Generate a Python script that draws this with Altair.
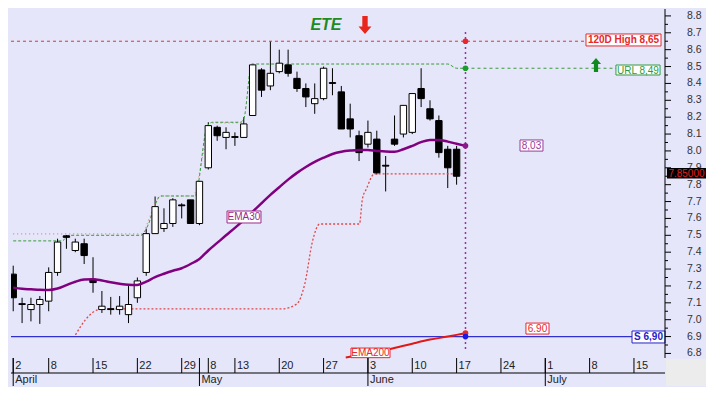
import altair as alt
import pandas as pd

# ---------------- data ----------------
day_index = list(range(51))
opens = [7.27, 7.095, 7.06, 7.09, 7.11, 7.28, 7.497, 7.41, 7.45, 7.24,
         7.06, 7.065, 7.06, 7.03, 7.13, 7.28, 7.51, 7.54, 7.57, 7.68,
         7.71, 7.57, 7.90, 8.14, 8.08, 8.085, 8.08, 8.21, 8.48, 8.385,
         8.47, 8.51, 8.43, 8.37, 8.28, 8.31, 8.405, 8.35, 8.19, 8.09,
         8.04, 8.07, 7.915, 8.07, 8.10, 8.11, 8.37, 8.25, 8.18, 8.01, 8.01]
highs = [7.32, 7.13, 7.13, 7.14, 7.31, 7.48, 7.502, 7.48, 7.48, 7.37,
         7.17, 7.135, 7.14, 7.21, 7.25, 7.54, 7.73, 7.66, 7.72, 7.69,
         7.71, 7.82, 8.17, 8.15, 8.14, 8.11, 8.20, 8.51, 8.49, 8.65,
         8.60, 8.60, 8.47, 8.40, 8.40, 8.50, 8.49, 8.385, 8.28, 8.12,
         8.18, 8.12, 7.97, 8.21, 8.27, 8.34, 8.49, 8.30, 8.21, 8.03, 8.03]
lows = [7.05, 6.98, 6.99, 6.975, 7.05, 7.26, 7.42, 7.40, 7.33, 7.16,
        7.04, 7.03, 7.03, 6.98, 7.10, 7.26, 7.51, 7.52, 7.55, 7.60,
        7.57, 7.56, 7.89, 8.06, 8.01, 8.03, 8.08, 8.21, 8.32, 8.36,
        8.46, 8.44, 8.35, 8.26, 8.22, 8.30, 8.33, 8.13, 8.08, 7.94,
        8.02, 7.86, 7.76, 8.03, 8.08, 8.10, 8.26, 8.18, 7.96, 7.78, 7.80]
closes = [7.13, 7.09, 7.09, 7.12, 7.28, 7.46, 7.488, 7.46, 7.38, 7.22,
          7.08, 7.06, 7.08, 7.09, 7.23, 7.51, 7.67, 7.57, 7.71, 7.675,
          7.57, 7.82, 8.15, 8.09, 8.11, 8.08, 8.16, 8.51, 8.36, 8.46,
          8.52, 8.46, 8.37, 8.32, 8.31, 8.49, 8.40, 8.13, 8.13, 7.99,
          8.11, 7.87, 7.91, 8.04, 8.27, 8.34, 8.31, 8.19, 7.99, 7.90, 7.85]

ema30_idx = list(range(52))
ema30_val = [7.19, 7.183, 7.18, 7.177, 7.176, 7.185, 7.205, 7.225, 7.238, 7.24,
             7.232, 7.222, 7.213, 7.207, 7.206, 7.225, 7.252, 7.272, 7.29, 7.305,
             7.33, 7.36, 7.41, 7.455, 7.50, 7.544, 7.59, 7.64, 7.69, 7.74,
             7.785, 7.83, 7.87, 7.905, 7.935, 7.96, 7.982, 7.995, 8.002, 8.006,
             8.005, 8.00, 7.996, 7.995, 8.01, 8.03, 8.052, 8.065, 8.065, 8.055,
             8.042, 8.03]

ema200_idx = [37.5, 42.5, 45, 47, 49, 50, 51]
ema200_val = [6.776, 6.826, 6.858, 6.882, 6.900, 6.910, 6.920]

url_trail_idx = [0, 5.5, 6.3, 14.4, 15.2, 16.0, 16.6, 20.5, 21.9, 22.5, 25.6, 26.0, 26.9, 49.0, 50.0, 51]
url_trail_val = [7.467, 7.467, 7.50, 7.50, 7.56, 7.68, 7.733, 7.733, 8.15, 8.17, 8.17, 8.19, 8.515, 8.515, 8.49, 8.49]

high_trail_idx = [0, 14.5, 15.5, 16.6, 20.3, 21.5, 22.6, 26.0]
high_trail_val = [7.508, 7.508, 7.62, 7.733, 7.733, 8.0, 8.166, 8.166]

stop_idx = [7.02, 8.15, 9.04, 10.06, 30.3, 31.97, 32.87, 33.76, 34.55, 39.04, 39.38, 39.83, 40.73, 49.94]
stop_val = [6.91, 7.0, 7.046, 7.064, 7.064, 7.093, 7.21, 7.467, 7.567, 7.567, 7.716, 7.775, 7.864, 7.864]

level_120d = 8.65
level_url = 8.49
level_support = 6.90
marker_idx = 51
marker_vals = [8.65, 8.49, 8.03, 6.92, 6.90]
marker_cols = ["#e8262b", "#1f9a2e", "#8a1a8a", "#e8262b", "#1a1ae0"]

label_text = ["120D High 8,65", "URL 8,49", "8,03", "6.90", "S 6,90", "EMA30", "EMA200"]
label_x0 = [64.59, 67.97, 57.15, 57.82, 69.78, 24.11, 38.09]
label_x1 = [73.05, 72.94, 59.74, 60.42, 73.50, 27.94, 42.49]
label_y0 = [8.622, 8.450, 7.999, 6.915, 6.862, 7.573, 6.775]
label_y1 = [8.693, 8.509, 8.065, 6.980, 6.933, 7.644, 6.832]
label_col = ["#e8262b", "#2e9a3e", "#9a3a9a", "#e8262b", "#2323c8", "#9a2a8a", "#e8262b"]
label_wt = ["bold", "normal", "normal", "normal", "bold", "normal", "normal"]

last_price_text = "7.85000"
last_price_box = [73.72, 78.12, 7.836, 7.899]

tick_idx = [0, 4, 9, 14, 19, 22, 25, 30, 35, 40, 45, 50, 55, 60, 65, 70]
tick_lab = ["2", "8", "15", "22", "29", "8", "13", "20", "27", "3", "10", "17", "24", "1", "8", "15"]
month_idx = [0, 21, 40, 60]
month_lab = ["April", "May", "June", "July"]
y_major = [6.8, 6.9, 7.0, 7.1, 7.2, 7.3, 7.4, 7.5, 7.6, 7.7, 7.8, 7.9, 8.0, 8.1, 8.2, 8.3, 8.4, 8.5, 8.6, 8.7, 8.8]
y_major_lab = ["6.8", "6.9", "7.0", "7.1", "7.2", "7.3", "7.4", "7.5", "7.6", "7.7", "7.8",
               "7.9", "8.0", "8.1", "8.2", "8.3", "8.4", "8.5", "8.6", "8.7", "8.8"]
y_minor = [6.85, 6.95, 7.05, 7.15, 7.25, 7.35, 7.45, 7.55, 7.65, 7.75, 7.85, 7.95, 8.05, 8.15, 8.25, 8.35, 8.45, 8.55, 8.65, 8.75]

title_text = "ETE"
title_pos = [35.27, 8.746]
down_arrow_pos = [39.67, 8.746]
up_arrow_pos = [65.72, 8.509]

# ---------------- layout ----------------
W, H = 654, 349
XS = alt.Scale(domain=[-0.25, 73.5], nice=False, zero=False)
YS = alt.Scale(domain=[6.773, 8.841], nice=False, zero=False)
FONT = "Liberation Sans"
NARROW = "Liberation Sans Narrow, Liberation Sans, Arial"
BG = "#e6e6fa"

candles = pd.DataFrame({"i": day_index, "open": opens, "high": highs, "low": lows, "close": closes})
candles["x0"] = candles["i"] - 0.36
candles["x1"] = candles["i"] + 0.36
candles["fill"] = ["white" if c >= o else "black" for o, c in zip(opens, closes)]


def X(field):
    return alt.X(field, type="quantitative", scale=XS, axis=None)


def Y(field):
    return alt.Y(field, type="quantitative", scale=YS, axis=None)


x_axis = alt.Axis(values=tick_idx, labels=False, ticks=False, domain=True, domainColor="black",
                  grid=True, gridColor="#a9a9bb", gridDash=[2, 3], gridWidth=1, title=None, orient="bottom")

wicks = alt.Chart(candles).mark_rule(color="black", strokeWidth=1, clip=True).encode(
    x=alt.X("i:Q", scale=XS, axis=x_axis),
    y=Y("low"),
    y2="high:Q",
)
bodies = alt.Chart(candles).mark_rect(stroke="black", strokeWidth=1, clip=True).encode(
    x=X("x0"), x2="x1", y=Y("open"), y2="close", fill=alt.Fill("fill:N", scale=None)
)

ema30 = alt.Chart(pd.DataFrame({"i": ema30_idx, "v": ema30_val})).mark_line(
    color="#800080", strokeWidth=2.5, interpolate="monotone").encode(x=X("i"), y=Y("v"))
ema200 = alt.Chart(pd.DataFrame({"i": ema200_idx, "v": ema200_val})).mark_line(
    color="#e01818", strokeWidth=2, interpolate="monotone").encode(x=X("i"), y=Y("v"))
url_trail = alt.Chart(pd.DataFrame({"i": url_trail_idx, "v": url_trail_val})).mark_line(
    color="#3a9a3a", strokeWidth=1, strokeDash=[3, 2], interpolate="monotone").encode(x=X("i"), y=Y("v"))
high_trail = alt.Chart(pd.DataFrame({"i": high_trail_idx, "v": high_trail_val})).mark_line(
    color="#e88080", strokeWidth=1.2, strokeDash=[1, 3], interpolate="monotone").encode(x=X("i"), y=Y("v"))
stop = alt.Chart(pd.DataFrame({"i": stop_idx, "v": stop_val})).mark_line(
    color="#e04848", strokeWidth=1.3, strokeDash=[2, 2], interpolate="monotone").encode(x=X("i"), y=Y("v"))

lvl_120 = alt.Chart(pd.DataFrame({"a": [-0.25], "b": [label_x0[0]], "v": [level_120d]})).mark_rule(
    color="#e83030", strokeWidth=1, strokeDash=[3, 3]).encode(x=X("a"), x2="b", y=Y("v"))
lvl_url = alt.Chart(pd.DataFrame({"a": [marker_idx], "b": [label_x0[1]], "v": [level_url]})).mark_rule(
    color="#3a9a3a", strokeWidth=1, strokeDash=[3, 3]).encode(x=X("a"), x2="b", y=Y("v"))
lvl_sup = alt.Chart(pd.DataFrame({"a": [-0.25], "b": [label_x0[4]], "v": [level_support]})).mark_rule(
    color="#3030d0", strokeWidth=1.2).encode(x=X("a"), x2="b", y=Y("v"))

vline = alt.Chart(pd.DataFrame({"i": [marker_idx], "a": [6.826], "b": [8.71]})).mark_rule(
    color="#993399", strokeWidth=1.5, strokeDash=[2, 3]).encode(x=X("i"), y=Y("a"), y2="b")
markers = alt.Chart(pd.DataFrame({"i": [marker_idx] * 5, "v": marker_vals, "c": marker_cols})).mark_circle(
    size=32, opacity=1).encode(x=X("i"), y=Y("v"), color=alt.Color("c:N", scale=None))

labels = pd.DataFrame({"t": label_text, "x0": label_x0, "x1": label_x1, "y0": label_y0, "y1": label_y1,
                       "c": label_col, "w": label_wt})
labels["xc"] = (labels["x0"] + labels["x1"]) / 2
labels["yc"] = (labels["y0"] + labels["y1"]) / 2
label_boxes = alt.Chart(labels).mark_rect(fill="white", strokeWidth=1).encode(
    x=X("x0"), x2="x1", y=Y("y0"), y2="y1", stroke=alt.Stroke("c:N", scale=None))
label_txt_b = alt.Chart(labels[labels["w"] == "bold"]).mark_text(
    font=FONT, fontSize=10, fontWeight="bold", align="center", baseline="middle", dy=0.5).encode(
    x=X("xc"), y=Y("yc"), text="t:N", color=alt.Color("c:N", scale=None))
label_txt_n = alt.Chart(labels[labels["w"] == "normal"]).mark_text(
    font=FONT, fontSize=10, align="center", baseline="middle", dy=0.5).encode(
    x=X("xc"), y=Y("yc"), text="t:N", color=alt.Color("c:N", scale=None))

# right-hand price axis, drawn from its own small tables
ymaj_df = pd.DataFrame({"v": y_major, "t": y_major_lab})
y_domain_line = alt.Chart(ymaj_df.head(1)).mark_rule(color="black").encode(
    x=alt.value(W), y=alt.value(0), y2=alt.value(H))
y_major_ticks = alt.Chart(ymaj_df).mark_rule(color="black").encode(
    y=Y("v"), x=alt.value(W), x2=alt.value(W + 6))
y_minor_ticks = alt.Chart(pd.DataFrame({"v": y_minor})).mark_rule(color="black").encode(
    y=Y("v"), x=alt.value(W), x2=alt.value(W + 3))
y_labels = alt.Chart(ymaj_df).mark_text(font=FONT, fontSize=10.5, color="#333333", align="left",
                                        baseline="middle").encode(y=Y("v"), x=alt.value(W + 22), text="t:N")

lp = pd.DataFrame({"x0": [last_price_box[0]], "x1": [last_price_box[1]], "y0": [last_price_box[2]],
                   "y1": [last_price_box[3]], "t": [last_price_text]})
lp["xc"] = (lp["x0"] + lp["x1"]) / 2
lp["yc"] = (lp["y0"] + lp["y1"]) / 2
lp_box = alt.Chart(lp).mark_rect(fill="black").encode(x=X("x0"), x2="x1", y=Y("y0"), y2="y1")
lp_txt = alt.Chart(lp).mark_text(font=FONT, fontSize=10, color="#e02020", baseline="middle", dy=0.5).encode(
    x=X("xc"), y=Y("yc"), text="t:N")

ticks_df = pd.DataFrame({"i": tick_idx, "t": tick_lab})
months_df = pd.DataFrame({"i": month_idx, "t": month_lab})
day_ticks = alt.Chart(ticks_df).mark_rule(color="black").encode(x=X("i"), y=alt.value(H), y2=alt.value(H + 15))
day_labels = alt.Chart(ticks_df).mark_text(font=NARROW, fontSize=11, color="#222222", align="left",
                                           baseline="middle", dx=2).encode(x=X("i"), y=alt.value(H + 8), text="t:N")
row_line = alt.Chart(ticks_df.head(1)).mark_rule(color="black").encode(
    x=alt.value(0), x2=alt.value(W), y=alt.value(H + 15))
month_sep = alt.Chart(months_df).mark_rule(color="black").encode(x=X("i"), y=alt.value(H), y2=alt.value(H + 28))
month_labels = alt.Chart(months_df).mark_text(font=NARROW, fontSize=11, color="#222222", align="left",
                                              baseline="middle", dx=2).encode(x=X("i"), y=alt.value(H + 22), text="t:N")
corner = alt.Chart(ticks_df.head(1)).mark_rect(color="#ececec").encode(
    x=alt.value(W + 1), x2=alt.value(W + 41), y=alt.value(H + 1), y2=alt.value(H + 28))

title = alt.Chart(pd.DataFrame({"i": [title_pos[0]], "v": [title_pos[1]], "t": [title_text]})).mark_text(
    font=FONT, fontSize=16, fontWeight="bold", fontStyle="italic", color="#1e8c1e", baseline="middle").encode(
    x=X("i"), y=Y("v"), text="t:N")
down_path = "M-0.3,-1L0.3,-1L0.3,0.15L0.72,0.15L0,1L-0.72,0.15L-0.3,0.15Z"
up_path = "M-0.3,1L0.3,1L0.3,-0.15L0.72,-0.15L0,-1L-0.72,-0.15L-0.3,-0.15Z"
down_arrow = alt.Chart(pd.DataFrame({"i": [down_arrow_pos[0]], "v": [down_arrow_pos[1]]})).mark_point(
    shape=down_path, filled=True, color="#e8261b", size=324, opacity=1).encode(x=X("i"), y=Y("v"))
up_arrow = alt.Chart(pd.DataFrame({"i": [up_arrow_pos[0]], "v": [up_arrow_pos[1]]})).mark_point(
    shape=up_path, filled=True, color="#0f8a1f", size=196, opacity=1).encode(x=X("i"), y=Y("v"))

chart = alt.layer(
    wicks, stop, high_trail, url_trail, lvl_120, lvl_url, lvl_sup, bodies, ema30, ema200,
    vline, markers, label_boxes, label_txt_b, label_txt_n,
    y_domain_line, y_major_ticks, y_minor_ticks, y_labels, lp_box, lp_txt,
    day_ticks, day_labels, row_line, month_sep, month_labels, corner, title, down_arrow, up_arrow,
).properties(width=W, height=H, background=BG, padding=0).configure_view(stroke=None)

chart.save("out.html", embed_options={"renderer": "svg", "actions": False})
